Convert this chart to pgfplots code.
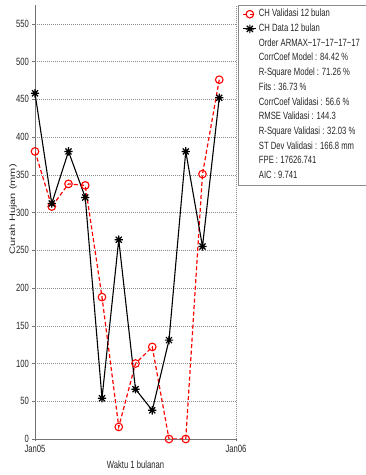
\documentclass[border=0pt]{standalone}
\usepackage{fontspec}
\setmainfont{Liberation Sans}[FakeStretch=0.73]
\newfontfamily\uprightlabel{Liberation Sans}
\usepackage{pgfplots}
\pgfplotsset{compat=1.18}

% eight-armed star (plus and cross overlaid)
\pgfdeclareplotmark{star8}{%
  \pgfpathmoveto{\pgfqpoint{-\pgfplotmarksize}{0pt}}%
  \pgfpathlineto{\pgfqpoint{\pgfplotmarksize}{0pt}}%
  \pgfpathmoveto{\pgfqpoint{0pt}{-\pgfplotmarksize}}%
  \pgfpathlineto{\pgfqpoint{0pt}{\pgfplotmarksize}}%
  \pgfpathmoveto{\pgfqpoint{-0.72\pgfplotmarksize}{-0.72\pgfplotmarksize}}%
  \pgfpathlineto{\pgfqpoint{0.72\pgfplotmarksize}{0.72\pgfplotmarksize}}%
  \pgfpathmoveto{\pgfqpoint{-0.72\pgfplotmarksize}{0.72\pgfplotmarksize}}%
  \pgfpathlineto{\pgfqpoint{0.72\pgfplotmarksize}{-0.72\pgfplotmarksize}}%
  \pgfusepathqstroke}

\newcommand{\chfont}{\fontsize{10.5}{12}\selectfont}

\begin{document}
\begin{tikzpicture}
\path[use as bounding box] (0,0) rectangle (365pt,475pt);
\begin{axis}[
  at={(35pt,36pt)}, anchor=south west,
  scale only axis, width=201pt, height=434pt,
  xmin=0, xmax=12, ymin=0, ymax=575,
  axis x line*=bottom, axis y line*=left,
  axis line style={-, black!55, line width=0.6pt},
  xtick={0,12}, xticklabels={Jan05,Jan06},
  ytick={0,50,...,550},
  tick align=outside, major tick length=2.5pt,
  tick style={black!55, line width=0.5pt},
  /pgf/number format/assume math mode=true,
  tick label style={font=\chfont, text=black!85},
  xtick pos=bottom, ytick pos=left,
  grid=major,
  major grid style={black!45, line width=0.5pt, dash pattern=on 0.6pt off 1.4pt},
  xlabel={Waktu 1 bulanan},
  xlabel style={font=\chfont, text=black!85, at={(axis description cs:0.5,-0.06)}, anchor=center},
  ylabel={\scalebox{1}[0.73]{Curah Hujan (mm)}},
  ylabel style={font=\uprightlabel\fontsize{11}{12}\selectfont, text=black!85,
                at={(axis description cs:-0.109,0.529)}, anchor=center},
  legend style={
    at={(axis description cs:1.01,1.0)}, anchor=north west,
    draw=black!45, fill=white, line width=0.5pt,
    font=\chfont, text=black!85,
    inner xsep=4.5pt, inner ysep=1.6pt, row sep=0pt,
    nodes={text height=8pt, text depth=2.7pt, inner ysep=2pt, inner xsep=2pt},
  },
  legend cell align=left,
  legend image code/.code={%
    \draw[mark repeat=2, mark phase=2] plot coordinates {(0pt,0pt) (6.5pt,0pt) (13pt,0pt)};},
]
\addplot[red, line width=1.2pt, dash pattern=on 4pt off 2.5pt,
         mark=o, mark size=3.8pt, mark options={solid, line width=1.1pt}]
  coordinates {
    (0,381) (1,308) (2,338) (3,336) (4,188) (5,16)
    (6,100) (7,122) (8,0) (9,0) (10,351) (11,476)
  };
\addlegendentry{CH Validasi 12 bulan}
\addplot[black, line width=1.1pt,
         mark=star8, mark size=4.2pt, mark options={solid, line width=1.2pt}]
  coordinates {
    (0,458) (1,312) (2,381) (3,320) (4,54) (5,264)
    (6,66) (7,38) (8,131) (9,381) (10,255) (11,452)
  };
\addlegendentry{CH Data 12 bulan}
\addlegendimage{empty legend}
\addlegendentry{Order ARMAX\textasciitilde17\textasciitilde17\textasciitilde17\textasciitilde17}
\addlegendimage{empty legend}
\addlegendentry{CorrCoef Model : 84.42 \%}
\addlegendimage{empty legend}
\addlegendentry{R-Square Model : 71.26 \%}
\addlegendimage{empty legend}
\addlegendentry{Fits : 36.73 \%}
\addlegendimage{empty legend}
\addlegendentry{CorrCoef Validasi : 56.6 \%}
\addlegendimage{empty legend}
\addlegendentry{RMSE Validasi : 144.3}
\addlegendimage{empty legend}
\addlegendentry{R-Square Validasi : 32.03 \%}
\addlegendimage{empty legend}
\addlegendentry{ST Dev Validasi : 166.8 mm}
\addlegendimage{empty legend}
\addlegendentry{FPE : 17626.741}
\addlegendimage{empty legend}
\addlegendentry{AIC : 9.741}
\end{axis}
\end{tikzpicture}
\end{document}
